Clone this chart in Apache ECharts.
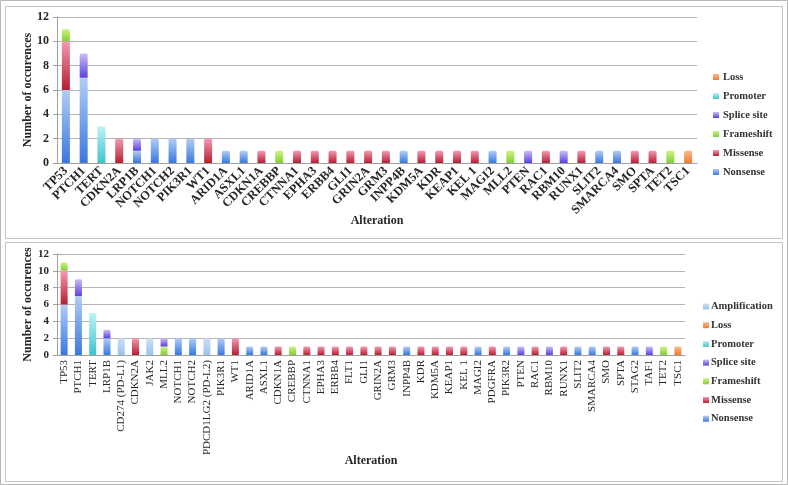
<!DOCTYPE html>
<html><head><meta charset="utf-8">
<script src="https://cdn.jsdelivr.net/npm/echarts@6/dist/echarts.min.js"></script>
<style>html,body{margin:0;padding:0;background:#fff}#c{width:788px;height:485px}</style>
</head><body><div id="c"></div>
<script>
// ---- Top panel data ----
const cats1 = ['TP53','PTCH1','TERT','CDKN2A','LRP1B','NOTCH1','NOTCH2','PIK3R1','WT1','ARID1A','ASXL1','CDKN1A','CREBBP','CTNNA1','EPHA3','ERBB4','GLI1','GRIN2A','GRM3','INPP4B','KDM5A','KDR','KEAP1','KEL 1','MAGI2','MLL2','PTEN','RAC1','RBM10','RUNX1','SLIT2','SMARCA4','SMO','SPTA','TET2','TSC1'];
const nonsense1   = [6,7,0,0,1,2,2,2,0,1,1,0,0,0,0,0,0,0,0,1,0,0,0,0,1,0,0,0,0,0,1,1,0,0,0,0];
const missense1   = [4,0,0,2,0,0,0,0,2,0,0,1,0,1,1,1,1,1,1,0,1,1,1,1,0,0,0,1,0,1,0,0,1,1,0,0];
const frameshift1 = [1,0,0,0,0,0,0,0,0,0,0,0,1,0,0,0,0,0,0,0,0,0,0,0,0,1,0,0,0,0,0,0,0,0,1,0];
const splice1     = [0,2,0,0,1,0,0,0,0,0,0,0,0,0,0,0,0,0,0,0,0,0,0,0,0,0,1,0,1,0,0,0,0,0,0,0];
const promoter1   = [0,0,3,0,0,0,0,0,0,0,0,0,0,0,0,0,0,0,0,0,0,0,0,0,0,0,0,0,0,0,0,0,0,0,0,0];
const loss1       = [0,0,0,0,0,0,0,0,0,0,0,0,0,0,0,0,0,0,0,0,0,0,0,0,0,0,0,0,0,0,0,0,0,0,0,1];

// ---- Bottom panel data ----
const cats2 = ['TP53','PTCH1','TERT','LRP1B','CD274 (PD-L1)','CDKN2A','JAK2','MLL2','NOTCH1','NOTCH2','PDCD1LG2 (PD-L2)','PIK3R1','WT1','ARID1A','ASXL1','CDKN1A','CREBBP','CTNNA1','EPHA3','ERBB4','FLT1','GLI1','GRIN2A','GRM3','INPP4B','KDR','KDM5A','KEAP1','KEL 1','MAGI2','PDGFRA','PIK3R2','PTEN','RAC1','RBM10','RUNX1','SLIT2','SMARCA4','SMO','SPTA','STAG2','TAF1','TET2','TSC1'];
const nonsense2      = [6,7,0,2,0,0,0,0,2,2,0,2,0,1,1,0,0,0,0,0,0,0,0,0,1,0,0,0,0,1,0,1,0,0,0,0,1,1,0,0,1,0,0,0];
const missense2      = [4,0,0,0,0,2,0,0,0,0,0,0,2,0,0,1,0,1,1,1,1,1,1,1,0,1,1,1,1,0,1,0,0,1,0,1,0,0,1,1,0,0,0,0];
const frameshift2    = [1,0,0,0,0,0,0,1,0,0,0,0,0,0,0,0,1,0,0,0,0,0,0,0,0,0,0,0,0,0,0,0,0,0,0,0,0,0,0,0,0,0,1,0];
const splice2        = [0,2,0,1,0,0,0,1,0,0,0,0,0,0,0,0,0,0,0,0,0,0,0,0,0,0,0,0,0,0,0,0,1,0,1,0,0,0,0,0,0,1,0,0];
const promoter2      = [0,0,5,0,0,0,0,0,0,0,0,0,0,0,0,0,0,0,0,0,0,0,0,0,0,0,0,0,0,0,0,0,0,0,0,0,0,0,0,0,0,0,0,0];
const loss2          = [0,0,0,0,0,0,0,0,0,0,0,0,0,0,0,0,0,0,0,0,0,0,0,0,0,0,0,0,0,0,0,0,0,0,0,0,0,0,0,0,0,0,0,1];
const amplification2 = [0,0,0,0,2,0,2,0,0,0,2,0,0,0,0,0,0,0,0,0,0,0,0,0,0,0,0,0,0,0,0,0,0,0,0,0,0,0,0,0,0,0,0,0];

const yTicks = [0,2,4,6,8,10,12];

function grad(top, bottom){
  return new echarts.graphic.LinearGradient(0,0,0,1,[{offset:0,color:top},{offset:1,color:bottom}]);
}
const COL = {
  'Nonsense':     grad('#b2cdf4','#3a78e0'),
  'Missense':     grad('#f59ab2','#b3202f'),
  'Frameshift':   grad('#cdf283','#7fcf36'),
  'Splice site':  grad('#cdbdf6','#5a40e0'),
  'Promoter':     grad('#bdf3f3','#3fc3cb'),
  'Loss':         grad('#f9bb8c','#ee7a30'),
  'Amplification':grad('#cde0f6','#9cc2ee')
};
const FONT = 'Liberation Serif';
const txt = '#262626';

function mk(name, data, idx, bw){
  return {name:name, type:'bar', stack:'s'+idx, xAxisIndex:idx, yAxisIndex:idx,
    data:data.map(v=>v===0?null:v), barWidth:bw,
    itemStyle:{color:COL[name], borderRadius:[1.5,1.5,0,0]}, emphasis:{disabled:true}};
}

const series = [
  mk('Nonsense',nonsense1,0,8), mk('Missense',missense1,0,8), mk('Frameshift',frameshift1,0,8),
  mk('Splice site',splice1,0,8), mk('Promoter',promoter1,0,8), mk('Loss',loss1,0,8),
  mk('Nonsense',nonsense2,1,7), mk('Missense',missense2,1,7), mk('Frameshift',frameshift2,1,7),
  mk('Splice site',splice2,1,7), mk('Promoter',promoter2,1,7), mk('Loss',loss2,1,7),
  mk('Amplification',amplification2,1,7)
];

function yAxis(idx, fs){
  return {type:'value', gridIndex:idx, min:yTicks[0], max:yTicks[yTicks.length-1], interval:2,
    name:'Number of occurences', nameLocation:'middle', nameGap:23, nameMoveOverlap:false,
    nameTextStyle:{fontFamily:FONT, fontWeight:'bold', fontSize:12, color:txt},
    axisLine:{show:true, lineStyle:{color:'#a0a0a0'}},
    axisTick:{show:true, length:4, lineStyle:{color:'#a0a0a0'}},
    axisLabel:{fontFamily:FONT, fontWeight:'bold', fontSize:fs, color:txt, margin:8},
    splitLine:{lineStyle:{color:'#b4b4b4', width:1}}};
}

const legendText = {fontFamily:FONT, fontWeight:'bold', fontSize:10.5, lineHeight:12, color:'#333'};

const option = {
  animation:false,
  backgroundColor:'#fff',
  graphic:[
    {type:'rect', shape:{x:0.5,y:0.5,width:787,height:484}, style:{fill:'none', stroke:'#b8b8b8', lineWidth:1}, silent:true},
    {type:'rect', shape:{x:5.5,y:6.5,width:777,height:232}, style:{fill:'none', stroke:'#c4c4c4', lineWidth:1}, silent:true},
    {type:'rect', shape:{x:5.5,y:242.5,width:777,height:239}, style:{fill:'none', stroke:'#c4c4c4', lineWidth:1}, silent:true}
  ],
  grid:[
    {left:57, right:91, top:17, height:146},
    {left:57, right:103, top:254, height:101}
  ],
  xAxis:[
    {type:'category', gridIndex:0, data:cats1,
      name:'Alteration', nameLocation:'middle', nameGap:52, nameMoveOverlap:false,
      nameTextStyle:{fontFamily:FONT, fontWeight:'bold', fontSize:12, color:txt},
      axisLine:{lineStyle:{color:'#a0a0a0'}}, axisTick:{length:4, lineStyle:{color:'#a0a0a0'}},
      axisLabel:{interval:0, rotate:45, fontFamily:FONT, fontWeight:'bold', fontSize:12.5, color:txt, margin:6}},
    {type:'category', gridIndex:1, data:cats2,
      name:'Alteration', nameLocation:'middle', nameGap:100, nameMoveOverlap:false,
      nameTextStyle:{fontFamily:FONT, fontWeight:'bold', fontSize:12, color:txt},
      axisLine:{lineStyle:{color:'#a0a0a0'}}, axisTick:{length:4, lineStyle:{color:'#a0a0a0'}},
      axisLabel:{interval:0, rotate:90, fontFamily:FONT, fontSize:11, color:txt, margin:5}}
  ],
  yAxis:[yAxis(0,12), yAxis(1,11)],
  legend:[
    {orient:'vertical', left:713, top:71, padding:0, itemWidth:6, itemHeight:6, itemGap:7,
      icon:'rect', selectedMode:false,
      data:['Loss','Promoter','Splice site','Frameshift','Missense','Nonsense'],
      textStyle:Object.assign({padding:[0,0,0,-1]}, legendText)},
    {orient:'vertical', left:703, top:300.5, padding:0, itemWidth:6, itemHeight:6, itemGap:6.7,
      icon:'rect', selectedMode:false,
      data:['Amplification','Loss','Promoter','Splice site','Frameshift','Missense','Nonsense'],
      textStyle:Object.assign({padding:[0,0,0,-3]}, legendText)}
  ],
  series:series
};
const chart = echarts.init(document.getElementById('c'), null, {renderer:'canvas'});
chart.setOption(option);
</script></body></html>
